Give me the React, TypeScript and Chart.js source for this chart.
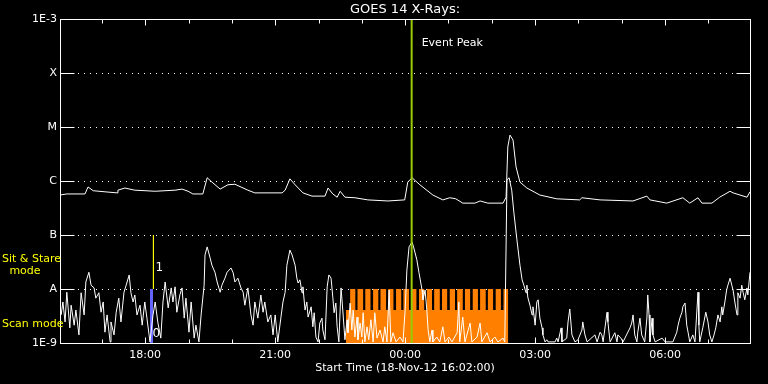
import React, { useEffect, useRef } from 'react';
import { Chart, registerables } from 'chart.js';

Chart.register(...registerables);

// ---------- data (time = hours after 18-Nov-12 16:00 UT, flux as log10 W/m^2) ----------
const chartTitle = 'GOES 14 X-Rays:';
const xAxisTitle = 'Start Time (18-Nov-12 16:02:00)';
const timeMin = 0.033;
const timeMax = 15.96;

const hourTicks = [1, 2, 3, 4, 5, 6, 7, 8, 9, 10, 11, 12, 13, 14, 15];
const hourTickLabels = ['', '18:00', '', '', '21:00', '', '', '00:00', '', '', '03:00', '', '', '06:00', ''];

const fluxTickValues = [1e-9, 1e-8, 1e-7, 1e-6, 1e-5, 1e-4, 1e-3];
const fluxTickLabels = ['1E-9', 'A', 'B', 'C', 'M', 'X', '1E-3'];

// 1-8 Angstrom channel
const longTimes = [
  0.03, 0.19, 0.61, 0.68, 0.80, 1.07, 1.35, 1.37, 1.53, 1.76, 2.23, 2.69, 2.85, 2.99, 3.10, 3.33, 3.43, 3.54, 3.73, 3.91,
  4.07, 4.37, 4.53, 5.16, 5.23, 5.34, 5.46, 5.64, 5.85, 6.15, 6.22, 6.33, 6.43, 6.50, 6.61, 6.84, 7.14, 7.60, 7.99, 8.06,
  8.16, 8.34, 8.64, 8.87, 9.03, 9.17, 9.33, 9.61, 9.73, 9.91, 10.26, 10.33, 10.37, 10.42, 10.49, 10.56, 10.65, 10.81, 11.11, 11.50,
  12.03, 12.08, 12.50, 13.26, 13.58, 13.65, 14.04, 14.41, 14.57, 14.76, 14.85, 15.08, 15.26, 15.50, 15.57, 15.89, 15.96,
];
const longLog = [
  -6.26, -6.24, -6.24, -6.11, -6.18, -6.20, -6.22, -6.17, -6.13, -6.17, -6.19, -6.17, -6.15, -6.19, -6.24, -6.24, -5.94, -6.02, -6.15, -6.07,
  -6.06, -6.17, -6.22, -6.22, -6.17, -5.96, -6.07, -6.22, -6.28, -6.28, -6.13, -6.24, -6.30, -6.19, -6.30, -6.31, -6.35, -6.37, -6.35, -6.02,
  -5.94, -6.07, -6.26, -6.35, -6.31, -6.33, -6.41, -6.41, -6.37, -6.41, -6.41, -6.30, -5.37, -5.15, -5.24, -5.74, -6.02, -6.13, -6.26, -6.33,
  -6.35, -6.31, -6.35, -6.37, -6.28, -6.35, -6.41, -6.31, -6.41, -6.31, -6.41, -6.41, -6.30, -6.19, -6.22, -6.30, -6.20,
];

// 0.5-4 Angstrom channel
const shortTimes = [
  0.06, 0.10, 0.15, 0.19, 0.26, 0.29, 0.36, 0.40, 0.47, 0.52, 0.59, 0.63, 0.70, 0.75, 0.82, 0.86, 0.93, 0.98, 1.03, 1.07,
  1.12, 1.19, 1.21, 1.28, 1.33, 1.39, 1.44, 1.51, 1.56, 1.63, 1.67, 1.72, 1.76, 1.81, 1.88, 1.93, 1.99, 2.04, 2.11, 2.18,
  2.23, 2.29, 2.36, 2.41, 2.46, 2.53, 2.60, 2.64, 2.69, 2.73, 2.80, 2.85, 2.90, 2.94, 3.01, 3.06, 3.13, 3.17, 3.24, 3.29,
  3.36, 3.38, 3.43, 3.50, 3.54, 3.61, 3.66, 3.73, 3.77, 3.84, 3.89, 3.98, 4.03, 4.07, 4.14, 4.21, 4.26, 4.30, 4.37, 4.44,
  4.49, 4.53, 4.60, 4.67, 4.72, 4.76, 4.83, 4.90, 4.95, 5.00, 5.06, 5.13, 5.18, 5.23, 5.27, 5.34, 5.39, 5.46, 5.50, 5.53,
  5.57, 5.62, 5.64, 5.69, 5.73, 5.76, 5.83, 5.87, 5.90, 5.94, 5.99, 6.03, 6.08, 6.10, 6.15, 6.20, 6.24, 6.29, 6.33, 6.36,
  6.40, 6.43, 6.47, 6.52, 6.56, 6.61, 6.66, 6.68, 6.73, 6.77, 6.80, 6.84, 6.89, 6.91, 6.96, 7.00, 7.03, 7.07, 7.12, 7.16,
  7.21, 7.26, 7.30, 7.35, 7.42, 7.49, 7.53, 7.58, 7.63, 7.67, 7.72, 7.79, 7.88, 7.95, 8.00, 8.04, 8.09, 8.16, 8.20, 8.27,
  8.32, 8.39, 8.41, 8.46, 8.50, 8.53, 8.57, 8.62, 8.64, 8.73, 8.80, 8.87, 8.92, 9.01, 9.08, 9.20, 9.24, 9.26, 9.33, 9.38,
  9.50, 9.54, 9.66, 9.73, 9.77, 9.89, 9.96, 10.07, 10.14, 10.26, 10.30, 10.35, 10.40, 10.46, 10.51, 10.58, 10.65, 10.70, 10.74, 10.79,
  10.81, 10.83, 10.88, 10.93, 10.95, 11.00, 11.04, 11.07, 11.11, 11.16, 11.18, 11.23, 11.27, 11.30, 11.46, 11.50, 11.53, 11.60, 11.62, 11.73,
  11.76, 11.80, 11.85, 11.92, 11.99, 12.08, 12.10, 12.15, 12.20, 12.38, 12.43, 12.50, 12.54, 12.57, 12.66, 12.68, 12.73, 12.84, 12.89, 12.91,
  12.98, 13.03, 13.19, 13.23, 13.26, 13.30, 13.35, 13.37, 13.42, 13.46, 13.53, 13.58, 13.60, 13.63, 13.65, 13.70, 13.72, 13.77, 13.93, 14.00,
  14.18, 14.27, 14.30, 14.34, 14.39, 14.41, 14.46, 14.50, 14.53, 14.57, 14.64, 14.69, 14.76, 14.78, 14.80, 14.87, 14.94, 14.99, 15.03, 15.08,
  15.13, 15.17, 15.22, 15.27, 15.31, 15.33, 15.38, 15.42, 15.45, 15.50, 15.54, 15.57, 15.61, 15.66, 15.68, 15.73, 15.77, 15.80, 15.84, 15.89,
  15.91, 15.96,
];
const shortLog = [
  -8.48, -8.24, -8.61, -8.06, -8.72, -8.30, -8.67, -8.39, -8.85, -8.07, -8.48, -7.87, -7.69, -7.93, -7.98, -8.17, -8.07, -8.43, -8.24, -8.80,
  -8.48, -8.98, -8.61, -8.85, -8.43, -8.17, -8.61, -8.06, -7.93, -7.74, -8.07, -8.24, -8.11, -8.48, -8.30, -8.67, -8.24, -8.54, -8.98, -8.48,
  -8.24, -8.61, -8.91, -8.24, -7.87, -8.35, -7.98, -8.24, -7.96, -8.43, -8.11, -7.98, -8.54, -8.17, -8.80, -8.24, -8.91, -8.67, -8.98, -8.48,
  -7.93, -7.37, -7.22, -7.43, -7.56, -7.69, -7.87, -8.06, -7.93, -7.80, -7.69, -7.61, -7.70, -7.87, -7.80, -7.98, -8.06, -8.30, -7.98, -8.48,
  -8.67, -8.24, -8.54, -8.11, -8.43, -8.24, -8.61, -8.48, -8.85, -8.48, -8.98, -8.54, -8.24, -8.06, -7.56, -7.28, -7.37, -7.56, -7.80, -7.89,
  -7.83, -8.07, -7.96, -8.39, -8.24, -8.52, -8.33, -8.70, -8.44, -8.89, -8.98, -8.63, -8.54, -8.76, -8.94, -7.96, -7.74, -7.80, -8.15, -8.44,
  -8.26, -8.70, -8.98, -7.98, -8.39, -8.94, -8.57, -8.81, -8.26, -8.76, -8.39, -8.89, -8.52, -8.94, -8.63, -8.89, -8.44, -8.98, -8.70, -8.94,
  -8.57, -8.98, -8.44, -8.91, -8.76, -8.98, -8.70, -8.98, -8.02, -8.98, -8.81, -8.98, -8.89, -8.98, -8.39, -7.65, -7.22, -7.13, -7.24, -7.46,
  -7.70, -8.02, -8.20, -8.02, -8.39, -8.76, -8.98, -8.76, -8.98, -8.89, -8.98, -8.70, -8.98, -8.89, -8.98, -8.81, -8.24, -8.98, -8.52, -8.98,
  -8.63, -8.98, -8.89, -8.63, -8.98, -8.81, -8.98, -8.89, -8.98, -8.91, -8.98, -5.98, -5.94, -6.17, -6.59, -7.09, -7.56, -7.83, -7.93, -8.07,
  -7.93, -8.15, -8.30, -8.48, -8.33, -8.67, -8.24, -8.20, -8.54, -8.72, -8.85, -8.98, -8.94, -8.98, -8.98, -8.91, -8.98, -8.72, -8.98, -8.91,
  -8.61, -8.37, -8.85, -8.98, -8.94, -8.76, -8.61, -8.85, -8.98, -8.85, -8.98, -8.80, -8.85, -8.98, -8.43, -8.61, -8.98, -8.81, -8.98, -8.85,
  -8.91, -8.98, -8.72, -8.63, -8.48, -8.85, -8.98, -8.80, -8.54, -8.85, -8.98, -8.54, -8.11, -8.48, -8.98, -8.54, -8.85, -8.98, -8.91, -8.98,
  -8.98, -8.80, -8.67, -8.54, -8.43, -8.33, -8.26, -8.67, -8.80, -8.98, -8.85, -8.98, -8.06, -8.67, -8.98, -8.72, -8.43, -8.61, -8.85, -8.98,
  -8.85, -8.72, -8.48, -8.61, -8.33, -8.48, -8.24, -8.02, -7.93, -7.80, -7.93, -8.02, -8.24, -8.48, -8.07, -8.17, -7.93, -8.06, -8.20, -7.98,
  -8.11, -7.69,
];

// observing mode (sit & stare = high step, scan = low step); each value holds until the next time
const modeTimes = [
  6.63, 6.73, 6.85, 6.90, 7.03, 7.08, 7.20, 7.26, 7.38, 7.43, 7.56, 7.61, 7.73, 7.79, 7.91, 7.96, 8.09, 8.14, 8.26, 8.32,
  8.44, 8.50, 8.62, 8.67, 8.80, 8.85, 8.97, 9.03, 9.15, 9.20, 9.33, 9.38, 9.50, 9.56, 9.68, 9.73, 9.86, 9.91, 10.03, 10.09,
  10.21, 10.27, 10.38,
];
const modeLog = [
  -8.39, -8, -8.39, -8, -8.39, -8, -8.39, -8, -8.39, -8, -8.39, -8, -8.39, -8, -8.39, -8, -8.39, -8, -8.39, -8,
  -8.39, -8, -8.39, -8, -8.39, -8, -8.39, -8, -8.39, -8, -8.39, -8, -8.39, -8, -8.39, -8, -8.39, -8, -8.39, -8,
  -8.39, -8, -8,
];

const blueTimes = [2.11, 2.18];
const blueLog = [-8, -8];
const markerTimes = [2.19, 2.19];
const markerLog = [-7, -8];
const peakTimes = [8.15, 8.15];
const peakLog = [-9, -3];

const FONT = 'DejaVu Sans';

const toPoints = (t: number[], l: number[]) => t.map((x, i) => ({ x, y: Math.pow(10, l[i]) }));

const overlayPlugin = {
  id: 'goesOverlay',
  beforeDatasetsDraw(chart: any) {
    const { ctx, chartArea: a, scales } = chart;
    const ys = scales.y;
    ctx.save();
    ctx.strokeStyle = '#ffffff';
    ctx.lineWidth = 1;
    ctx.setLineDash([1, 5]);
    fluxTickValues.slice(1, -1).forEach((v) => {
      const py = Math.round(ys.getPixelForValue(v)) + 0.5;
      ctx.beginPath();
      ctx.moveTo(a.left + 18, py);
      ctx.lineTo(a.right - 14, py);
      ctx.stroke();
    });
    ctx.restore();
  },
  afterDatasetsDraw(chart: any) {
    const { ctx, chartArea: a, scales } = chart;
    const xs = scales.x;
    const ys = scales.y;
    const L = Math.round(a.left) + 0.5;
    const R = Math.round(a.right) + 0.5;
    const T = Math.round(a.top) + 0.5;
    const B = Math.round(a.bottom) + 0.5;
    ctx.save();
    ctx.strokeStyle = '#ffffff';
    ctx.lineWidth = 1;
    ctx.setLineDash([]);
    ctx.strokeRect(L, T, R - L, B - T);
    // y ticks (both sides)
    fluxTickValues.forEach((v) => {
      const py = Math.round(ys.getPixelForValue(v)) + 0.5;
      ctx.beginPath();
      ctx.moveTo(L, py); ctx.lineTo(L + 14, py);
      ctx.moveTo(R - 14, py); ctx.lineTo(R, py);
      ctx.stroke();
    });
    // x ticks (top and bottom)
    hourTicks.forEach((h, i) => {
      const px = Math.round(xs.getPixelForValue(h)) + 0.5;
      const len = hourTickLabels[i] ? 6 : 4;
      ctx.beginPath();
      ctx.moveTo(px, T); ctx.lineTo(px, T + len);
      ctx.moveTo(px, B); ctx.lineTo(px, B - len);
      ctx.stroke();
    });
    // texts
    ctx.font = `11px "${FONT}"`;
    ctx.textBaseline = 'middle';
    ctx.fillStyle = '#ffffff';
    ctx.textAlign = 'left';
    ctx.fillText('Event Peak', xs.getPixelForValue(peakTimes[0]) + 10, a.top + 24);
    ctx.font = `12px "${FONT}"`;
    const mx = xs.getPixelForValue(markerTimes[0]);
    ctx.fillText('1', mx + 2, ys.getPixelForValue(Math.pow(10, -7.6)));
    ctx.fillText('0', mx - 1, ys.getPixelForValue(Math.pow(10, -8.83)));
    ctx.font = `11px "${FONT}"`;
    ctx.fillStyle = '#ffff00';
    ctx.fillText('Sit & Stare', 2, 259);
    ctx.textAlign = 'center';
    ctx.fillText('mode', 25, 271);
    ctx.textAlign = 'left';
    ctx.fillText('Scan mode', 2, 324);
    ctx.restore();
  },
};

export default function App() {
  const canvasRef = useRef<HTMLCanvasElement | null>(null);

  useEffect(() => {
    const canvas = canvasRef.current;
    if (!canvas) return;
    const lineBase = { pointRadius: 0, pointHoverRadius: 0, tension: 0, fill: false };
    const chart = new Chart(canvas, {
      type: 'line',
      data: {
        datasets: [
          { ...lineBase, label: 'Event Peak', data: toPoints(peakTimes, peakLog), borderColor: '#99cc00', borderWidth: 2, order: 0 },
          { ...lineBase, label: 'mode marker', data: toPoints(markerTimes, markerLog), borderColor: '#ffff00', borderWidth: 1, order: 1 },
          { ...lineBase, label: '1-8 A', data: toPoints(longTimes, longLog), borderColor: '#ffffff', borderWidth: 1, order: 2 },
          { ...lineBase, label: '0.5-4 A', data: toPoints(shortTimes, shortLog), borderColor: '#ffffff', borderWidth: 1, order: 3 },
          {
            ...lineBase, label: 'scan', data: toPoints(blueTimes, blueLog), borderWidth: 0, borderColor: 'rgba(0,0,0,0)',
            backgroundColor: '#6464ff', fill: 'start', stepped: 'before', order: 4,
          },
          {
            ...lineBase, label: 'mode', data: toPoints(modeTimes, modeLog), borderWidth: 0, borderColor: 'rgba(0,0,0,0)',
            backgroundColor: '#ff8000', fill: 'start', stepped: 'before', order: 5,
          },
        ],
      },
      options: {
        animation: false,
        responsive: false,
        devicePixelRatio: 1,
        events: [],
        layout: { padding: { top: 0, right: 18, left: 0, bottom: 0 } },
        plugins: {
          legend: { display: false },
          tooltip: { enabled: false },
          title: {
            display: true,
            text: chartTitle,
            color: '#ffffff',
            fullSize: false,
            font: { family: FONT, size: 13, weight: 'normal', lineHeight: '13px' },
            padding: { top: 3, bottom: 3 },
          },
        },
        scales: {
          x: {
            type: 'linear',
            min: timeMin,
            max: timeMax,
            grid: { display: false, drawTicks: false },
            border: { display: false },
            afterBuildTicks: (scale: any) => {
              scale.ticks = hourTicks.map((v) => ({ value: v }));
            },
            afterFit: (scale: any) => {
              scale.height = 41;
            },
            ticks: {
              autoSkip: false,
              maxRotation: 0,
              color: '#ffffff',
              padding: 6,
              font: { family: FONT, size: 11 },
              callback: (_v: any, i: number) => hourTickLabels[i] ?? '',
            },
            title: {
              display: true,
              text: xAxisTitle,
              color: '#ffffff',
              font: { family: FONT, size: 11 },
              padding: { top: 0, bottom: 9 },
            },
          },
          y: {
            type: 'logarithmic',
            min: 1e-9,
            max: 1e-3,
            grid: { display: false, drawTicks: false },
            border: { display: false },
            afterBuildTicks: (scale: any) => {
              scale.ticks = fluxTickValues.map((v) => ({ value: v }));
            },
            afterFit: (scale: any) => {
              scale.width = 60;
            },
            ticks: {
              autoSkip: false,
              color: '#ffffff',
              padding: 3,
              font: { family: FONT, size: 11 },
              callback: (_v: any, i: number) => fluxTickLabels[i] ?? '',
            },
          },
        },
      },
      plugins: [overlayPlugin],
    } as any);
    return () => chart.destroy();
  }, []);

  return (
    <div style={{ position: 'fixed', left: 0, top: 0, width: 768, height: 384, background: '#000000' }}>
      <canvas ref={canvasRef} width={768} height={384} style={{ display: 'block', width: 768, height: 384 }} />
    </div>
  );
}
